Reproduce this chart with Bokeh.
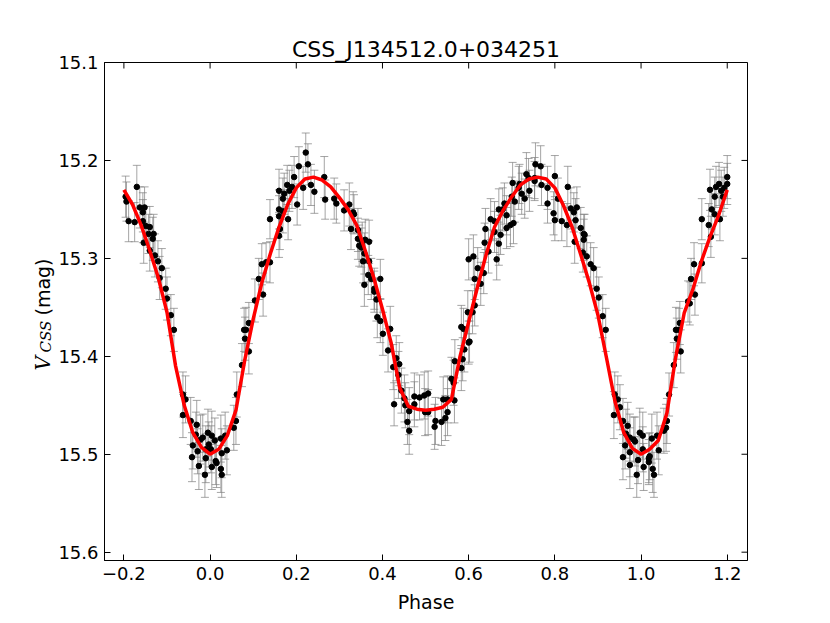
import math
from bokeh.plotting import figure
from bokeh.models import (ColumnDataSource, Whisker, TeeHead, Range1d,
                          FixedTicker, Label)
from bokeh.embed import file_html
from bokeh.resources import INLINE

# ---------------- data ----------------
phase = [
    -0.196, -0.194, -0.170, -0.189, -0.175, -0.163, -0.156, -0.152, -0.156, -0.149,
    -0.140, -0.131, -0.133, -0.154, -0.143, -0.140, -0.128, -0.121, -0.112, -0.117,
    -0.103, -0.100, -0.091, -0.084,
    -0.063, -0.057, -0.063, -0.045, -0.031, -0.033, -0.040, -0.042, -0.026, -0.029,
    -0.022, -0.017, -0.012, -0.010, -0.010, -0.003, -0.005, 0.004, 0.002, 0.004,
    0.013, 0.015, 0.011, 0.025, 0.027, 0.025, 0.027, 0.035, 0.039, 0.055,
    0.060, 0.062, 0.074, 0.090, 0.079, 0.083, 0.081, 0.090, 0.104,
    0.113, 0.123, 0.120, 0.130, 0.139, 0.160, 0.162, 0.139, 0.160, 0.169,
    0.181, 0.160, 0.169, 0.160, 0.172, 0.179, 0.184, 0.190, 0.195, 0.206,
    0.202, 0.216, 0.227, 0.222, 0.234, 0.242, 0.265, 0.267,
    0.288, 0.293, 0.311, 0.323, 0.332, 0.334, 0.327, 0.343, 0.343, 0.353,
    0.360, 0.369, 0.346, 0.351, 0.358, 0.355, 0.369, 0.367, 0.374, 0.358,
    0.381, 0.395, 0.381, 0.386, 0.388, 0.395,
    0.401, 0.418, 0.413, 0.432, 0.439, 0.425, 0.437, 0.444, 0.427, 0.451,
    0.453, 0.462, 0.458, 0.462, 0.474, 0.474, 0.486, 0.497, 0.506, 0.499,
    0.506, 0.523, 0.521, 0.537, 0.541, 0.551, 0.546, 0.551, 0.567, 0.560,
    0.565, 0.568, 0.583, 0.586, 0.590, 0.583, 0.588, 0.600, 0.602, 0.609,
    0.614,
    0.600, 0.611, 0.614, 0.598, 0.621, 0.628, 0.635, 0.637, 0.639, 0.646,
    0.651, 0.660, 0.660, 0.670, 0.665, 0.674, 0.670, 0.679, 0.683, 0.688,
    0.688, 0.697, 0.704, 0.700, 0.707, 0.716, 0.702, 0.718,
    0.723, 0.730, 0.734, 0.741, 0.739, 0.753, 0.755, 0.767, 0.753, 0.769,
    0.783, 0.800, 0.783, 0.807, 0.797, 0.800, 0.816, 0.830, 0.828, 0.837,
    0.844, 0.851, 0.848, 0.860, 0.867, 0.869, 0.846, 0.867, 0.865, 0.874,
    0.883, 0.890, 0.897, 0.902, 0.911,
    0.918, 0.939, 0.946, 0.951, 0.937, 0.958, 0.969, 0.965, 0.974, 0.983,
    0.986, 0.963, 0.958, 0.974, 0.974, 0.990, 0.993, 0.997, 1.004, 1.004,
    1.006, 1.018, 1.018, 1.020, 1.025, 1.027, 1.030, 1.037, 1.041, 1.053,
    1.058, 1.060, 1.065, 1.076, 1.092, 1.081, 1.088, 1.083, 1.090, 1.109,
    1.113, 1.116, 1.123, 1.125, 1.141, 1.141, 1.157, 1.162, 1.164, 1.171,
    1.183, 1.160, 1.171, 1.174, 1.181, 1.186, 1.190, 1.193, 1.200, 1.200,
]
mag = [
    15.237, 15.242, 15.227, 15.262, 15.263, 15.248, 15.253, 15.248, 15.262, 15.267,
    15.268, 15.275, 15.280, 15.284, 15.275, 15.292, 15.297, 15.303, 15.310, 15.320,
    15.331, 15.341, 15.358, 15.373,
    15.439, 15.444, 15.460, 15.466, 15.470, 15.480, 15.491, 15.503, 15.512, 15.497,
    15.485, 15.483, 15.521, 15.504, 15.495, 15.490, 15.478, 15.481, 15.495, 15.513,
    15.507, 15.509, 15.486, 15.484, 15.499, 15.515, 15.521, 15.481, 15.496, 15.473,
    15.466, 15.439, 15.409, 15.395, 15.373, 15.373, 15.382, 15.366, 15.343,
    15.321, 15.337, 15.306, 15.304, 15.304, 15.277, 15.270, 15.260, 15.257, 15.252,
    15.260, 15.250, 15.239, 15.231, 15.234, 15.225, 15.231, 15.227, 15.217, 15.206,
    15.245, 15.228, 15.204, 15.192, 15.225, 15.232, 15.217, 15.240,
    15.239, 15.244, 15.251, 15.245, 15.253, 15.255, 15.270, 15.271, 15.280, 15.283,
    15.281, 15.283, 15.287, 15.289, 15.295, 15.303, 15.303, 15.317, 15.321, 15.327,
    15.331, 15.321, 15.334, 15.342, 15.360, 15.364,
    15.377, 15.372, 15.394, 15.402, 15.408, 15.411, 15.419, 15.435, 15.449, 15.443,
    15.450, 15.456, 15.467, 15.476, 15.449, 15.441, 15.442, 15.440, 15.438, 15.457,
    15.457, 15.466, 15.472, 15.467, 15.444, 15.444, 15.463, 15.457, 15.445, 15.423,
    15.427, 15.405, 15.412, 15.403, 15.393, 15.370, 15.372, 15.386, 15.385, 15.355,
    15.348,
    15.301, 15.298, 15.321, 15.355, 15.310, 15.326, 15.315, 15.284, 15.270, 15.293,
    15.260, 15.262, 15.273, 15.285, 15.301, 15.276, 15.250, 15.250, 15.244, 15.256,
    15.269, 15.266, 15.264, 15.237, 15.242, 15.228, 15.223, 15.224,
    15.234, 15.239, 15.214, 15.231, 15.218, 15.218, 15.204, 15.206, 15.221, 15.225,
    15.228, 15.216, 15.244, 15.239, 15.254, 15.261, 15.262, 15.227, 15.266, 15.249,
    15.253, 15.248, 15.261, 15.269, 15.275, 15.276, 15.283, 15.281, 15.294, 15.298,
    15.306, 15.310, 15.331, 15.340, 15.359,
    15.373, 15.439, 15.444, 15.452, 15.460, 15.466, 15.471, 15.479, 15.483, 15.485,
    15.487, 15.491, 15.503, 15.498, 15.511, 15.521, 15.506, 15.478, 15.481, 15.495,
    15.513, 15.504, 15.508, 15.502, 15.484, 15.515, 15.521, 15.481, 15.496, 15.476,
    15.473, 15.466, 15.439, 15.409, 15.395, 15.373, 15.373, 15.382, 15.366, 15.344,
    15.346, 15.321, 15.306, 15.337, 15.305, 15.260, 15.266, 15.278, 15.250, 15.255,
    15.260, 15.230, 15.237, 15.227, 15.224, 15.231, 15.237, 15.228, 15.217, 15.224,
]
mag_err = [
    0.021, 0.020, 0.022, 0.021, 0.020, 0.021, 0.020, 0.021, 0.022, 0.020,
    0.021, 0.020, 0.022, 0.021, 0.020, 0.021, 0.022, 0.021, 0.020, 0.022,
    0.021, 0.022, 0.021, 0.022,
    0.023, 0.024, 0.023, 0.024, 0.025, 0.023, 0.024, 0.025, 0.024, 0.023,
    0.025, 0.024, 0.023, 0.025, 0.024, 0.023, 0.024, 0.025, 0.024, 0.023,
    0.024, 0.025, 0.023, 0.024, 0.025, 0.024, 0.023, 0.024, 0.025, 0.023,
    0.024, 0.023, 0.022, 0.023, 0.022, 0.023, 0.022, 0.021, 0.022,
    0.021, 0.022, 0.021, 0.020, 0.021, 0.022, 0.021, 0.020, 0.021, 0.022,
    0.021, 0.020, 0.021, 0.022, 0.021, 0.020, 0.021, 0.022, 0.021, 0.020,
    0.021, 0.022, 0.021, 0.020, 0.021, 0.022, 0.021, 0.020,
    0.021, 0.020, 0.021, 0.022, 0.021, 0.020, 0.021, 0.022, 0.021, 0.020,
    0.021, 0.022, 0.021, 0.020, 0.021, 0.022, 0.021, 0.020, 0.021, 0.022,
    0.021, 0.020, 0.021, 0.022, 0.021, 0.022,
    0.022, 0.023, 0.022, 0.023, 0.022, 0.023, 0.024, 0.023, 0.022, 0.024,
    0.023, 0.024, 0.023, 0.024, 0.023, 0.024, 0.023, 0.024, 0.023, 0.024,
    0.023, 0.024, 0.023, 0.024, 0.023, 0.024, 0.023, 0.024, 0.023, 0.022,
    0.023, 0.022, 0.023, 0.022, 0.023, 0.022, 0.021, 0.022, 0.021, 0.022,
    0.021,
    0.021, 0.022, 0.021, 0.022, 0.021, 0.022, 0.021, 0.020, 0.021, 0.022,
    0.021, 0.020, 0.021, 0.022, 0.021, 0.020, 0.021, 0.022, 0.021, 0.020,
    0.021, 0.022, 0.021, 0.020, 0.021, 0.022, 0.021, 0.020,
    0.021, 0.020, 0.022, 0.021, 0.020, 0.021, 0.022, 0.021, 0.020, 0.021,
    0.022, 0.021, 0.020, 0.021, 0.022, 0.021, 0.020, 0.021, 0.022, 0.021,
    0.020, 0.021, 0.022, 0.021, 0.020, 0.021, 0.022, 0.021, 0.020, 0.021,
    0.022, 0.021, 0.022, 0.021, 0.022,
    0.022, 0.023, 0.024, 0.023, 0.024, 0.023, 0.024, 0.025, 0.024, 0.023,
    0.025, 0.024, 0.023, 0.025, 0.024, 0.023, 0.024, 0.025, 0.024, 0.023,
    0.024, 0.025, 0.023, 0.024, 0.025, 0.024, 0.023, 0.024, 0.025, 0.023,
    0.024, 0.023, 0.022, 0.023, 0.022, 0.023, 0.022, 0.021, 0.022, 0.021,
    0.022, 0.021, 0.022, 0.021, 0.020, 0.021, 0.022, 0.021, 0.020, 0.021,
    0.022, 0.021, 0.020, 0.021, 0.022, 0.021, 0.020, 0.021, 0.022, 0.021,
]

# model fit curve
fit_phase = [
    -0.20, -0.18, -0.16, -0.14, -0.12, -0.10, -0.08, -0.06, -0.04, -0.02,
    0.00, 0.02, 0.04, 0.06, 0.08, 0.10, 0.12, 0.14, 0.16, 0.18,
    0.20, 0.22, 0.24, 0.26, 0.28, 0.30, 0.32, 0.34, 0.36, 0.38,
    0.40, 0.42, 0.44, 0.46, 0.48, 0.50, 0.52, 0.54, 0.56, 0.58,
    0.60, 0.62, 0.64, 0.66, 0.68, 0.70, 0.72, 0.74, 0.76, 0.78,
    0.80, 0.82, 0.84, 0.86, 0.88, 0.90, 0.92, 0.94, 0.96, 0.98,
    1.00, 1.02, 1.04, 1.06, 1.08, 1.10, 1.12, 1.14, 1.16, 1.18, 1.20,
]
fit_mag = [
    15.230, 15.245, 15.266, 15.292, 15.320, 15.355, 15.410, 15.450, 15.478, 15.493,
    15.500, 15.495, 15.481, 15.455, 15.405, 15.362, 15.325, 15.295, 15.268, 15.245,
    15.228, 15.219, 15.217, 15.220, 15.227, 15.238, 15.250, 15.266, 15.292, 15.320,
    15.352, 15.386, 15.432, 15.451, 15.454, 15.455, 15.454, 15.452, 15.444, 15.400,
    15.365, 15.330, 15.297, 15.268, 15.251, 15.237, 15.225, 15.219, 15.217, 15.219,
    15.228, 15.246, 15.268, 15.296, 15.325, 15.358, 15.402, 15.447, 15.478, 15.494,
    15.500, 15.495, 15.486, 15.458, 15.402, 15.356, 15.332, 15.303, 15.278, 15.256, 15.230,
]

x_ticks = [-0.2, 0.0, 0.2, 0.4, 0.6, 0.8, 1.0, 1.2]
x_tick_labels = ["\u22120.2", "0.0", "0.2", "0.4", "0.6", "0.8", "1.0", "1.2"]
y_ticks = [15.1, 15.2, 15.3, 15.4, 15.5, 15.6]
y_tick_labels = ["15.1", "15.2", "15.3", "15.4", "15.5", "15.6"]

title_text = "CSS_J134512.0+034251"
x_label = "Phase"

# ---------------- figure ----------------
FONT = "DejaVu Sans"
X0, X1 = -0.245, 1.247
Y0, Y1 = 15.6085, 15.1
p = figure(width=822, height=620, output_backend="svg", toolbar_location=None,
           x_range=Range1d(X0, X1), y_range=Range1d(Y0, Y1),
           min_border_left=104, min_border_right=75, min_border_top=62,
           min_border_bottom=60, title=title_text, x_axis_label=x_label)
p.background_fill_color = "white"
p.border_fill_color = "white"
p.outline_line_color = "black"
p.outline_line_width = 1
p.xgrid.visible = False
p.ygrid.visible = False

p.title.text_font = FONT
p.title.text_font_size = "22px"
p.title.text_font_style = "normal"
p.title.text_color = "black"
p.title.align = "center"
p.title.standoff = 2

def style_axis(ax, ticks, labels):
    ax.ticker = FixedTicker(ticks=ticks)
    ax.major_label_overrides = {t: l for t, l in zip(ticks, labels)}
    ax.major_tick_in = 6
    ax.major_tick_out = 0
    ax.minor_tick_in = 0
    ax.minor_tick_out = 0
    ax.major_tick_line_color = "black"
    ax.axis_line_color = "black"
    ax.major_label_text_font = FONT
    ax.major_label_text_color = "black"
    ax.major_label_text_font_size = "18px"
    ax.major_label_standoff = 6

style_axis(p.xaxis[0], x_ticks, x_tick_labels)
style_axis(p.yaxis[0], y_ticks, y_tick_labels)
p.xaxis[0].axis_label_text_font = FONT
p.xaxis[0].axis_label_text_font_size = "19px"
p.xaxis[0].axis_label_text_font_style = "normal"
p.xaxis[0].axis_label_text_color = "black"
p.xaxis[0].axis_label_standoff = 8

# inward ticks on the top and right spines (dashes centred on the spine, clipped by the frame)
p.scatter(x_ticks, [Y1] * len(x_ticks), marker="dash", angle=math.pi / 2, size=12,
          line_color="black", line_width=1)
p.scatter([X1] * len(y_ticks), y_ticks, marker="dash", size=12,
          line_color="black", line_width=1)

# error bars
src = ColumnDataSource(dict(
    x=phase, y=mag,
    lower=[m - e for m, e in zip(mag, mag_err)],
    upper=[m + e for m, e in zip(mag, mag_err)],
))
bar_col = "#7f7f7f"
wh = Whisker(source=src, base="x", lower="lower", upper="upper", dimension="height",
             line_color=bar_col, line_alpha=0.7, line_width=1,
             upper_head=TeeHead(size=8, line_color=bar_col, line_alpha=0.7, line_width=1),
             lower_head=TeeHead(size=8, line_color=bar_col, line_alpha=0.7, line_width=1))
p.add_layout(wh)

p.scatter("x", "y", source=src, size=5.5, fill_color="black", line_color="black")

p.line(fit_phase, fit_mag, line_color="#ff0000", line_width=3.5)

# y axis label: V_CSS (mag), kept in the spare right-hand side panel but
# positioned (data coordinates) to the left of the frame
FRAME_W, FRAME_H = 643.0, 498.0
def dx(px):  # pixel offset from frame left -> data x
    return X0 + px / FRAME_W * (X1 - X0)
def dy(px):  # pixel offset from frame top -> data y
    return Y1 + px / FRAME_H * (Y0 - Y1)

ylab_parts = [
    dict(text="V", x=-62, y=308, font="DejaVu Serif", style="italic", size="20px"),
    dict(text="CSS", x=-59, y=290, font="DejaVu Serif", style="italic", size="15px"),
    dict(text="(mag)", x=-62, y=253, font=FONT, style="normal", size="19px"),
]
for part in ylab_parts:
    p.add_layout(Label(x=dx(part["x"]), y=dy(part["y"]), text=part["text"],
                       angle=math.pi / 2, text_font=part["font"],
                       text_font_style=part["style"], text_font_size=part["size"],
                       text_baseline="alphabetic", text_align="left",
                       text_color="black"), "right")

open("out.html", "w").write(file_html(p, INLINE))
